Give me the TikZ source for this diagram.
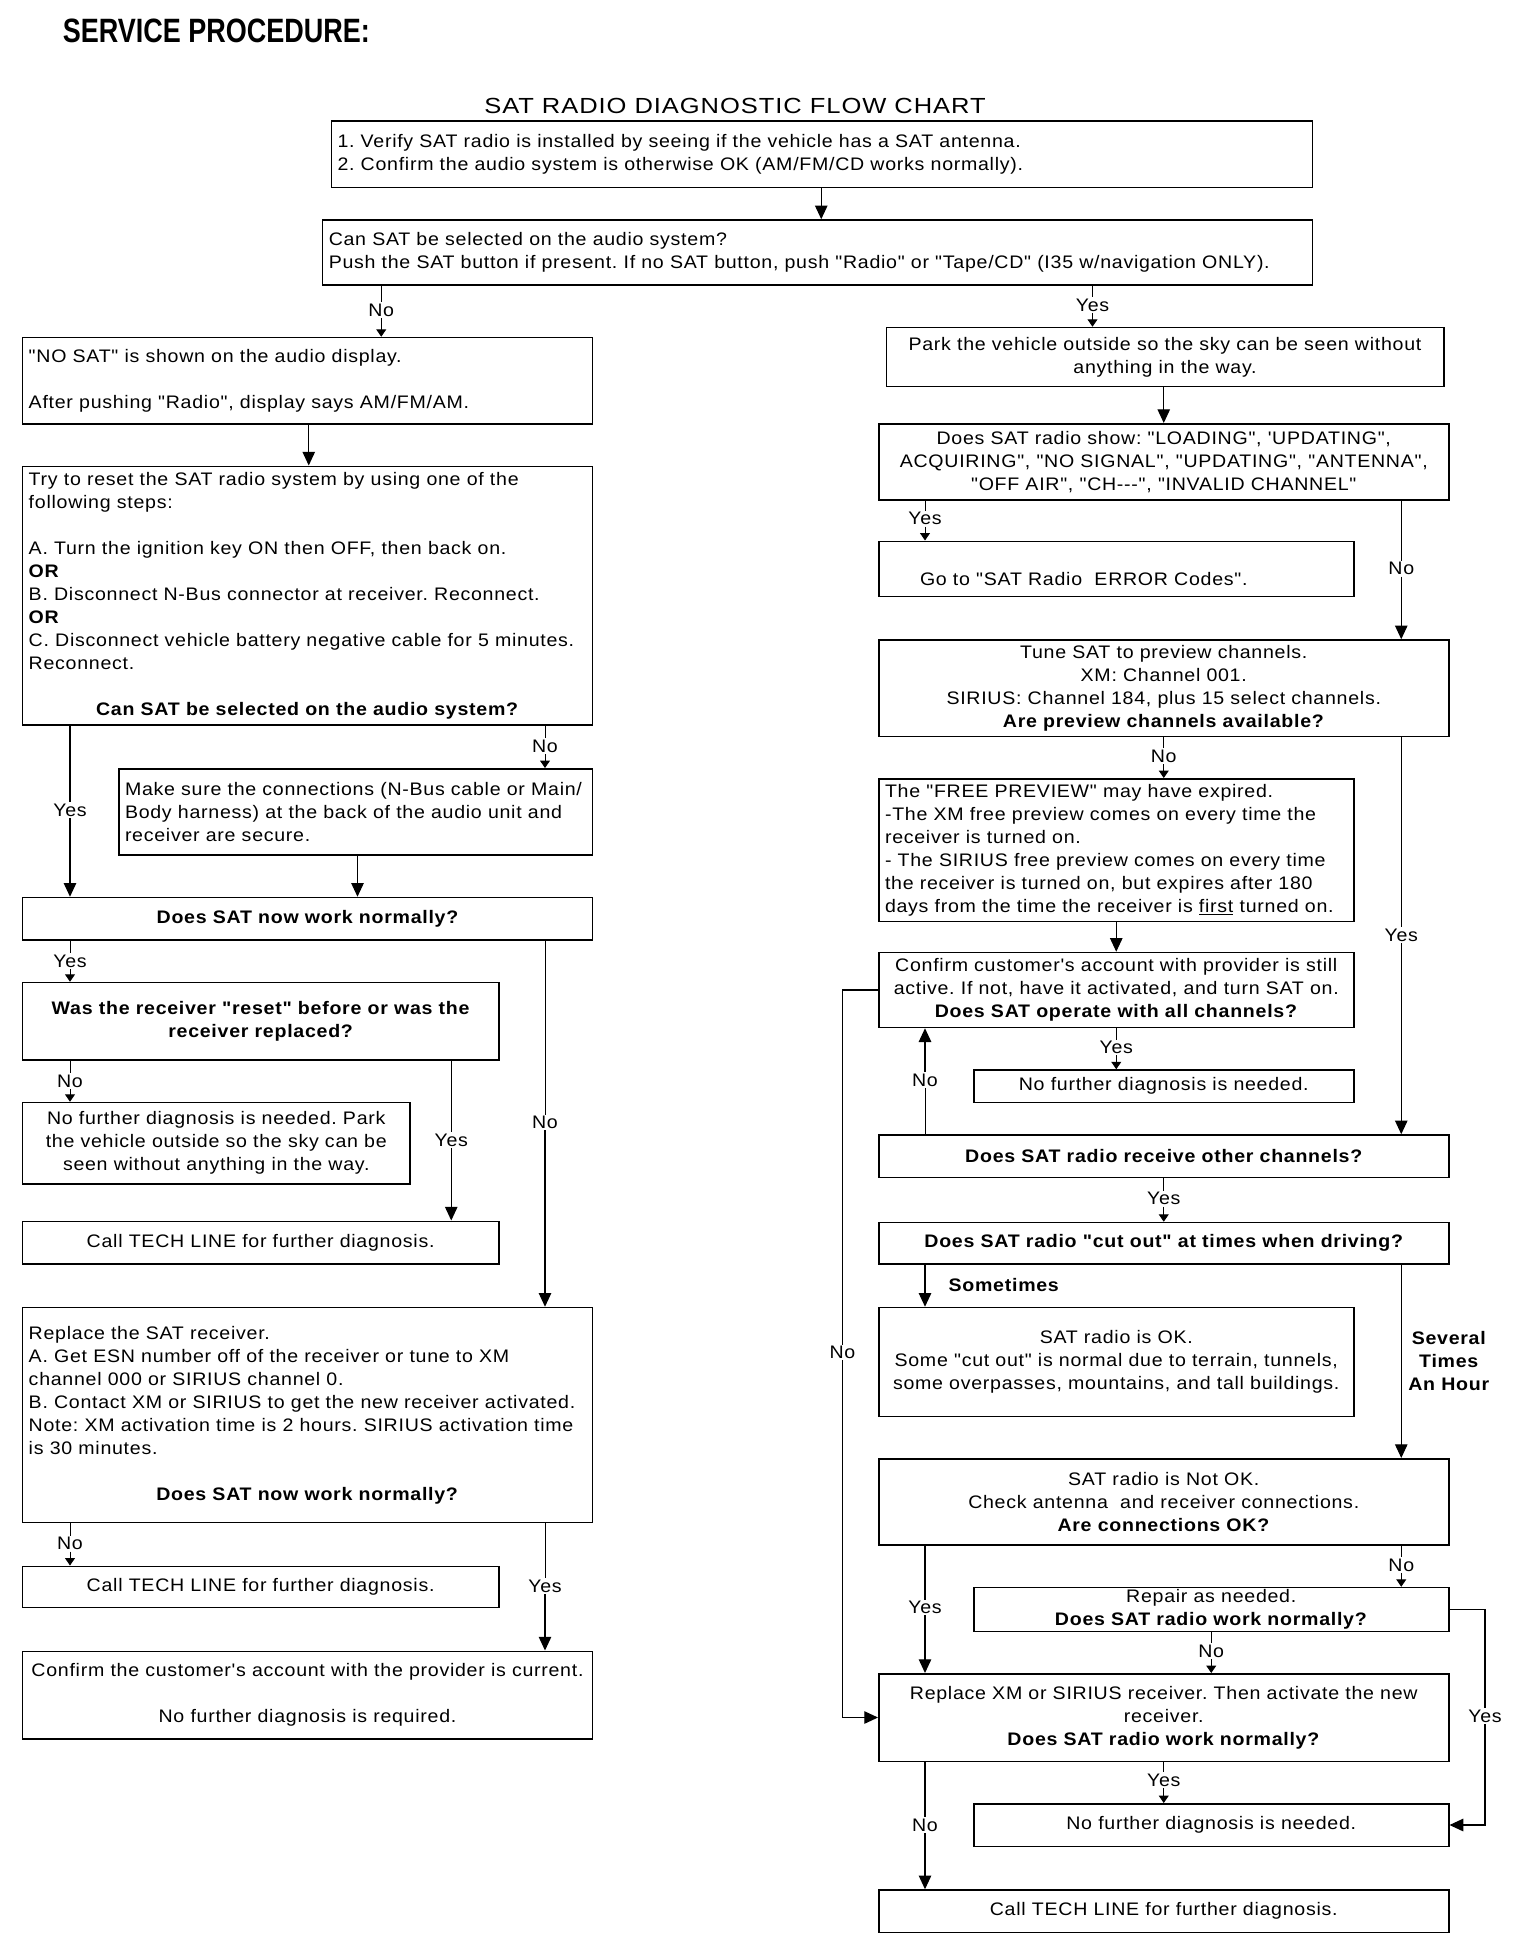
\documentclass[tikz,border=0pt]{standalone}
\usepackage{fontspec}
\setmainfont{Liberation Sans}[Ligatures=TeXOff,FakeStretch=1.08,LetterSpace=4]
\newfontfamily\titlefont{Liberation Sans}[Ligatures=TeXOff]
\usetikzlibrary{arrows.meta}
\frenchspacing
\newcommand\fs{\fontsize{14.5}{18.4}\selectfont}
\newcommand\fl[2]{\makebox[#1pt][l]{#2}}
\newcommand\fc[2]{\makebox[#1pt][c]{#2}}
\newcommand\mkbox[7]{\node[box,#6,minimum width={(#4)-(#2)},minimum height={(#5)-(#3)}] (#1) at ({((#2)+(#4))/2},{((#3)+(#5))/2}) {#7};}
\tikzset{
  box/.style={draw, line width=1.2pt, inner xsep=5pt, inner ysep=0pt, font=\fs, align=center},
  lbox/.style={align=left},
  main/.style={line width=1pt, -{Triangle[length=11pt,width=10pt]}},
  mainline/.style={line width=1pt},
  stub/.style={line width=0.8pt},
  small/.style={line width=0.8pt, -{Triangle[length=6pt,width=8pt]}},
  lbl/.style={font=\fs, inner sep=1pt},
  blbl/.style={font=\fs\bfseries, inner sep=1pt, align=center},
}
\begin{document}
\begin{tikzpicture}[x=1pt,y=-1pt]
\useasboundingbox[fill=white] (0,0) rectangle (1216,1568);

\node[anchor=west, inner sep=0pt] (title) at (50,25) {\scalebox{0.8}[1]{\titlefont\fontsize{27}{27}\selectfont\bfseries SERVICE PROCEDURE:}};
\node[inner sep=0pt] (sub) at (588,85) {\scalebox{1.08}[1]{\fontsize{17.5}{19}\selectfont SAT RADIO DIAGNOSTIC FLOW CHART}};

% ---------- top boxes
\mkbox{b1}{265}{97}{1050}{150}{lbox}{\fl{775}{1. Verify SAT radio is installed by seeing if the vehicle has a SAT antenna.}\\2. Confirm the audio system is otherwise OK (AM/FM/CD works normally).}
\mkbox{b2}{258}{176}{1050}{228}{lbox}{\fl{782}{Can SAT be selected on the audio system?}\\Push the SAT button if present. If no SAT button, push "Radio" or "Tape/CD" (I35 w/navigation ONLY).}

% ---------- left column
\mkbox{L1}{18}{270}{474}{339}{lbox}{\fl{446}{"NO SAT" is shown on the audio display.}\\[18.4pt]After pushing "Radio", display says AM/FM/AM.}
\mkbox{L2}{18}{373}{474}{580}{lbox}{\fl{446}{Try to reset the SAT radio system by using one of the}\\following steps:\\[18.4pt]A. Turn the ignition key ON then OFF, then back on.\\\textbf{OR}\\B. Disconnect N-Bus connector at receiver. Reconnect.\\\textbf{OR}\\C. Disconnect vehicle battery negative cable for 5 minutes.\\Reconnect.\\[18.4pt]\fc{446}{\textbf{Can SAT be selected on the audio system?}}}
\mkbox{L3}{95}{615}{474}{684}{lbox}{\fl{369}{Make sure the connections (N-Bus cable or Main/}\\Body harness) at the back of the audio unit and\\receiver are secure.}
\mkbox{L4}{18}{718}{474}{752}{font=\fs\bfseries}{Does SAT now work normally?}
\mkbox{L5}{18}{786}{399}{848}{font=\fs\bfseries}{Was the receiver "reset" before or was the\\receiver replaced?}
\mkbox{L6}{18}{882}{328}{947}{}{No further diagnosis is needed. Park\\the vehicle outside so the sky can be\\seen without anything in the way.}
\mkbox{L7}{18}{977}{399}{1011}{}{Call TECH LINE for further diagnosis.}
\mkbox{L8}{18}{1046}{474}{1218}{lbox}{\fl{446}{Replace the SAT receiver.}\\A. Get ESN number off of the receiver or tune to XM\\channel 000 or SIRIUS channel 0.\\B. Contact XM or SIRIUS to get the new receiver activated.\\Note: XM activation time is 2 hours. SIRIUS activation time\\is 30 minutes.\\[18.4pt]\fc{446}{\textbf{Does SAT now work normally?}}}
\mkbox{L9}{18}{1253}{399}{1286}{}{Call TECH LINE for further diagnosis.}
\mkbox{L10}{18}{1321}{474}{1391}{}{Confirm the customer's account with the provider is current.\\[18.4pt]No further diagnosis is required.}

% ---------- right column
\mkbox{R1}{709}{262}{1155}{309}{}{Park the vehicle outside so the sky can be seen without\\anything in the way.}
\mkbox{R2}{703}{339}{1159}{400}{}{Does SAT radio show: "LOADING", 'UPDATING",\\ACQUIRING", "NO SIGNAL", "UPDATING", "ANTENNA",\\"OFF AIR", "CH---", "INVALID CHANNEL"}
\mkbox{R3}{703}{433}{1083}{477}{lbox,text height=26pt,text depth=0pt}{\fl{370}{\hspace*{28pt}Go to "SAT Radio\ \ ERROR Codes".}}
\mkbox{R4}{703}{512}{1159}{589}{}{Tune SAT to preview channels.\\XM: Channel 001.\\SIRIUS: Channel 184, plus 15 select channels.\\\textbf{Are preview channels available?}}
\mkbox{R5}{703}{623}{1083}{737}{lbox}{\fl{370}{The "FREE PREVIEW" may have expired.}\\-The XM free preview comes on every time the\\receiver is turned on.\\- The SIRIUS free preview comes on every time\\the receiver is turned on, but expires after 180\\days from the time the receiver is \underline{first} turned on.}
\mkbox{R6}{703}{762}{1083}{822}{}{Confirm customer's account with provider is still\\active. If not, have it activated, and turn SAT on.\\\textbf{Does SAT operate with all channels?}}
\mkbox{R7}{779}{856}{1083}{882}{}{No further diagnosis is needed.}
\mkbox{R8}{703}{908}{1159}{942}{font=\fs\bfseries}{Does SAT radio receive other channels?}
\mkbox{R9}{703}{978}{1159}{1011}{font=\fs\bfseries}{Does SAT radio "cut out" at times when driving?}
\mkbox{R10}{703}{1046}{1083}{1133}{}{SAT radio is OK.\\Some "cut out" is normal due to terrain, tunnels,\\some overpasses, mountains, and tall buildings.}
\mkbox{R11}{703}{1167}{1159}{1236}{}{SAT radio is Not OK.\\Check antenna\ \ and receiver connections.\\\textbf{Are connections OK?}}
\mkbox{R13}{779}{1270}{1159}{1305}{}{Repair as needed.\\\textbf{Does SAT radio work normally?}}
\mkbox{R12}{703}{1339}{1159}{1409}{}{Replace XM or SIRIUS receiver. Then activate the new\\receiver.\\\textbf{Does SAT radio work normally?}}
\mkbox{R14}{779}{1443}{1159}{1477}{}{No further diagnosis is needed.}
\mkbox{R15}{703}{1512}{1159}{1546}{}{Call TECH LINE for further diagnosis.}

% ---------- connectors, top
\draw[main] (b1.south -| 657,0) -- (b2.north -| 657,0);
\node[lbl] (q1) at (305,248) {No};
\draw[stub] (b2.south -| q1) -- (q1.north);
\draw[small] (q1.south) -- (L1.north -| q1);
\node[lbl] (q2) at (874,244) {Yes};
\draw[stub] (b2.south -| q2) -- (q2.north);
\draw[small] (q2.south) -- (R1.north -| q2);

% ---------- left connectors
\draw[main] (L1.south -| 247,0) -- (L2.north -| 247,0);
\node[lbl] (q3) at (56,648) {Yes};
\draw[mainline] (L2.south -| q3) -- (q3.north);
\draw[main] (q3.south) -- (L4.north -| q3);
\node[lbl] (q4) at (436,597) {No};
\draw[stub] (L2.south -| q4) -- (q4.north);
\draw[small] (q4.south) -- (L3.north -| q4);
\draw[main] (L3.south -| 286,0) -- (L4.north -| 286,0);
\node[lbl] (q5) at (56,769) {Yes};
\draw[stub] (L4.south -| q5) -- (q5.north);
\draw[small] (q5.south) -- (L5.north -| q5);
\node[lbl] (q6) at (436,898) {No};
\draw[stub] (L4.south -| q6) -- (q6.north);
\draw[main] (q6.south) -- (L8.north -| q6);
\node[lbl] (q7) at (56,865) {No};
\draw[stub] (L5.south -| q7) -- (q7.north);
\draw[small] (q7.south) -- (L6.north -| q7);
\node[lbl] (q8) at (361,912) {Yes};
\draw[mainline] (L5.south -| q8) -- (q8.north);
\draw[main] (q8.south) -- (L7.north -| q8);
\node[lbl] (q9) at (56,1235) {No};
\draw[stub] (L8.south -| q9) -- (q9.north);
\draw[small] (q9.south) -- (L9.north -| q9);
\node[lbl] (q10) at (436,1269) {Yes};
\draw[stub] (L8.south -| q10) -- (q10.north);
\draw[main] (q10.south) -- (L10.north -| q10);

% ---------- right connectors
\draw[main] (R1.south -| 931,0) -- (R2.north -| 931,0);
\node[lbl] (r1) at (740,415) {Yes};
\draw[stub] (R2.south -| r1) -- (r1.north);
\draw[small] (r1.south) -- (R3.north -| r1);
\node[lbl] (r2) at (1121,455) {No};
\draw[mainline] (R2.south -| r2) -- (r2.north);
\draw[main] (r2.south) -- (R4.north -| r2);
\node[lbl] (r3) at (931,605) {No};
\draw[stub] (R4.south -| r3) -- (r3.north);
\draw[small] (r3.south) -- (R5.north -| r3);
\node[lbl] (r4) at (1121,748) {Yes};
\draw[mainline] (R4.south -| r4) -- (r4.north);
\draw[main] (r4.south) -- (R8.north -| r4);
\draw[main] (R5.south -| 893,0) -- (R6.north -| 893,0);
\node[lbl] (r5) at (893,838) {Yes};
\draw[stub] (R6.south -| r5) -- (r5.north);
\draw[small] (r5.south) -- (R7.north -| r5);
\node[lbl] (r6) at (674,1082) {No};
\draw[mainline] (R6.west) -| (r6.north);
\draw[main] (r6.south) |- (R12.west);
\node[lbl] (r7) at (740,864) {No};
\draw[stub] (R8.north -| r7) -- (r7.south);
\draw[main] (r7.north) -- (R6.south -| r7);
\node[lbl] (r8) at (931,959) {Yes};
\draw[stub] (R8.south -| r8) -- (r8.north);
\draw[small] (r8.south) -- (R9.north -| r8);
\draw[main] (R9.south -| 740,0) -- (R10.north -| 740,0);
\node[blbl] (r9) at (803,1028) {Sometimes};
\draw[main] (R9.south -| 1121,0) -- (R11.north -| 1121,0);
\node[blbl] (r10) at (1159,1089) {Several\\Times\\An Hour};
\node[lbl] (r11) at (740,1286) {Yes};
\draw[mainline] (R11.south -| r11) -- (r11.north);
\draw[main] (r11.south) -- (R12.north -| r11);
\node[lbl] (r12) at (1121,1252) {No};
\draw[stub] (R11.south -| r12) -- (r12.north);
\draw[small] (r12.south) -- (R13.north -| r12);
\node[lbl] (r13) at (969,1321) {No};
\draw[stub] (R13.south -| r13) -- (r13.north);
\draw[small] (r13.south) -- (R12.north -| r13);
\node[lbl] (r14) at (1188,1373) {Yes};
\draw[mainline] (R13.east) -| (r14.north);
\draw[main] (r14.south) |- (R14.east);
\node[lbl] (r15) at (931,1424) {Yes};
\draw[stub] (R12.south -| r15) -- (r15.north);
\draw[small] (r15.south) -- (R14.north -| r15);
\node[lbl] (r16) at (740,1460) {No};
\draw[mainline] (R12.south -| r16) -- (r16.north);
\draw[main] (r16.south) -- (R15.north -| r16);
\end{tikzpicture}
\end{document}
